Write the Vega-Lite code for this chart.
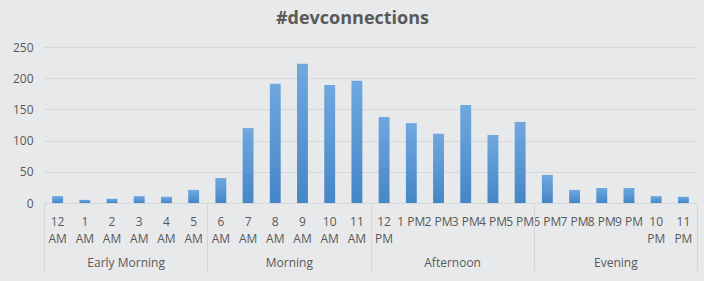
{
  "$schema": "https://vega.github.io/schema/vega-lite/v6.json",
  "width": 653,
  "height": 156,
  "autosize": {"type": "none"},
  "padding": {"left": 44, "top": 47, "right": 7, "bottom": 78},
  "background": "#E8E9EB",
  "title": {
    "text": "#devconnections",
    "fontSize": 18,
    "fontWeight": "bold",
    "color": "#595959",
    "font": "Open Sans",
    "anchor": "middle",
    "dx": -18,
    "offset": 13
  },
  "config": {
    "view": {"stroke": null},
    "axis": {"labelFont": "Open Sans", "labelFontSize": 12, "labelColor": "#595959"}
  },
  "data": {
    "values": [
      {"hour": "12 AM", "count": 11, "period": "Early Morning"},
      {"hour": "1 AM", "count": 5, "period": "Early Morning"},
      {"hour": "2 AM", "count": 7, "period": "Early Morning"},
      {"hour": "3 AM", "count": 11, "period": "Early Morning"},
      {"hour": "4 AM", "count": 10, "period": "Early Morning"},
      {"hour": "5 AM", "count": 21, "period": "Early Morning"},
      {"hour": "6 AM", "count": 40, "period": "Morning"},
      {"hour": "7 AM", "count": 120, "period": "Morning"},
      {"hour": "8 AM", "count": 191, "period": "Morning"},
      {"hour": "9 AM", "count": 223, "period": "Morning"},
      {"hour": "10 AM", "count": 189, "period": "Morning"},
      {"hour": "11 AM", "count": 196, "period": "Morning"},
      {"hour": "12 PM", "count": 138, "period": "Afternoon"},
      {"hour": "1 PM", "count": 128, "period": "Afternoon"},
      {"hour": "2 PM", "count": 111, "period": "Afternoon"},
      {"hour": "3 PM", "count": 157, "period": "Afternoon"},
      {"hour": "4 PM", "count": 109, "period": "Afternoon"},
      {"hour": "5 PM", "count": 130, "period": "Afternoon"},
      {"hour": "6 PM", "count": 45, "period": "Evening"},
      {"hour": "7 PM", "count": 21, "period": "Evening"},
      {"hour": "8 PM", "count": 24, "period": "Evening"},
      {"hour": "9 PM", "count": 24, "period": "Evening"},
      {"hour": "10 PM", "count": 11, "period": "Evening"},
      {"hour": "11 PM", "count": 10, "period": "Evening"}
    ]
  },
  "layer": [
    {
      "mark": {
        "type": "bar",
        "color": {
          "gradient": "linear",
          "x1": 0, "y1": 0, "x2": 0, "y2": 1,
          "stops": [
            {"offset": 0, "color": "#70A8DE"},
            {"offset": 1, "color": "#4586C8"}
          ]
        }
      },
      "encoding": {
        "x": {
          "field": "hour",
          "type": "nominal",
          "sort": null,
          "scale": {"paddingInner": 0.6, "paddingOuter": 0.3},
          "axis": {
            "title": null,
            "orient": "bottom",
            "domain": false,
            "ticks": false,
            "grid": false,
            "labelAngle": 0,
            "labelPadding": 13,
            "labelBaseline": "top",
            "labelLineHeight": 17,
            "labelOverlap": false,
            "labelExpr": "indexof(datum.value, 'AM') >= 0 || length(datum.value) > 4 ? split(datum.value, ' ') : datum.value"
          }
        },
        "y": {
          "field": "count",
          "type": "quantitative",
          "scale": {"domain": [0, 250]},
          "axis": {
            "title": null,
            "values": [0, 50, 100, 150, 200, 250],
            "domain": false,
            "ticks": false,
            "labelPadding": 11,
            "gridColor": "#D6D7D9",
            "gridWidth": 1
          }
        }
      }
    },
    {
      "mark": {"type": "point", "opacity": 0},
      "encoding": {
        "x": {
          "field": "period",
          "type": "nominal",
          "sort": null,
          "scale": {"paddingInner": 0, "paddingOuter": 0},
          "axis": {
            "title": null,
            "orient": "bottom",
            "domain": false,
            "grid": false,
            "tickBand": "extent",
            "tickSize": 68,
            "tickColor": "#D6D7D9",
            "tickWidth": 1,
            "labelAngle": 0,
            "labelPadding": -14,
            "labelBaseline": "top",
            "labelOverlap": false,
            "offset": 0
          }
        }
      }
    }
  ],
  "resolve": {"scale": {"x": "independent"}, "axis": {"x": "independent"}}
}
